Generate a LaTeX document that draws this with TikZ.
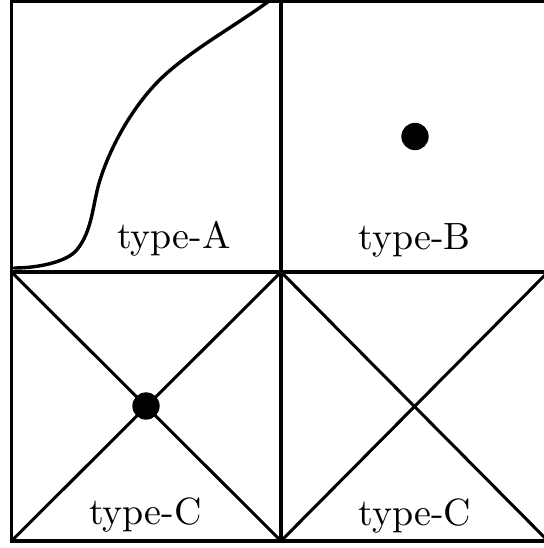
\documentclass[tikz,border=0pt]{standalone}
\begin{document}
\begin{tikzpicture}[x=0.26343pt,y=-0.26343pt,
  gridline/.style={draw=black,line width=0.8pt},
  curveline/.style={draw=black,line width=0.9pt,line cap=round},
  bigdot/.style={circle,fill=black,inner sep=0pt,minimum size=7.2pt},
  lbl/.style={anchor=base,inner sep=0pt,font=\normalsize}]
\useasboundingbox (0,0) rectangle (543,548);
% corners
\coordinate (TL) at (11.5,1);
\coordinate (TM) at (281,1);
\coordinate (TR) at (548,1);
\coordinate (ML) at (11.5,272);
\coordinate (MM) at (281,272);
\coordinate (MR) at (548,272);
\coordinate (BL) at (11.5,541);
\coordinate (BM) at (281,541);
\coordinate (BR) at (548,541);
% grid
\draw[gridline] (TL) rectangle (BR);
\draw[gridline] (TM) -- (BM);
\draw[gridline] (ML) -- (MR);
% diagonals
\draw[gridline] (ML) -- (BM);
\draw[gridline] (BL) -- (MM);
\draw[gridline] (MM) -- (BR);
\draw[gridline] (BM) -- (MR);
% curve type-A
\coordinate (c0) at (14,268);
\coordinate (c1) at (76.7,250);
\coordinate (c2) at (100,180);
\coordinate (c3) at (167,73);
\coordinate (c4) at (269,1);
\draw[curveline] (c0) .. controls (39,268) and (67.1,261.6) .. (c1)
  .. controls (92.7,230.75) and (92.5,203.75) .. (c2)
  .. controls (112,142) and (137,99.4) .. (c3)
  .. controls (197,46.6) and (237,24.6) .. (c4);
% dots
\node[bigdot] (dotB) at (415,136.5) {};
\node[bigdot] (dotC) at (146,406) {};
% labels
\node[lbl] (labA) at (174,248) {type-A};
\node[lbl] (labB) at (414.5,249) {type-B};
\node[lbl] (labC1) at (145.5,524.5) {type-C};
\node[lbl] (labC2) at (414.7,525) {type-C};
\end{tikzpicture}
\end{document}
